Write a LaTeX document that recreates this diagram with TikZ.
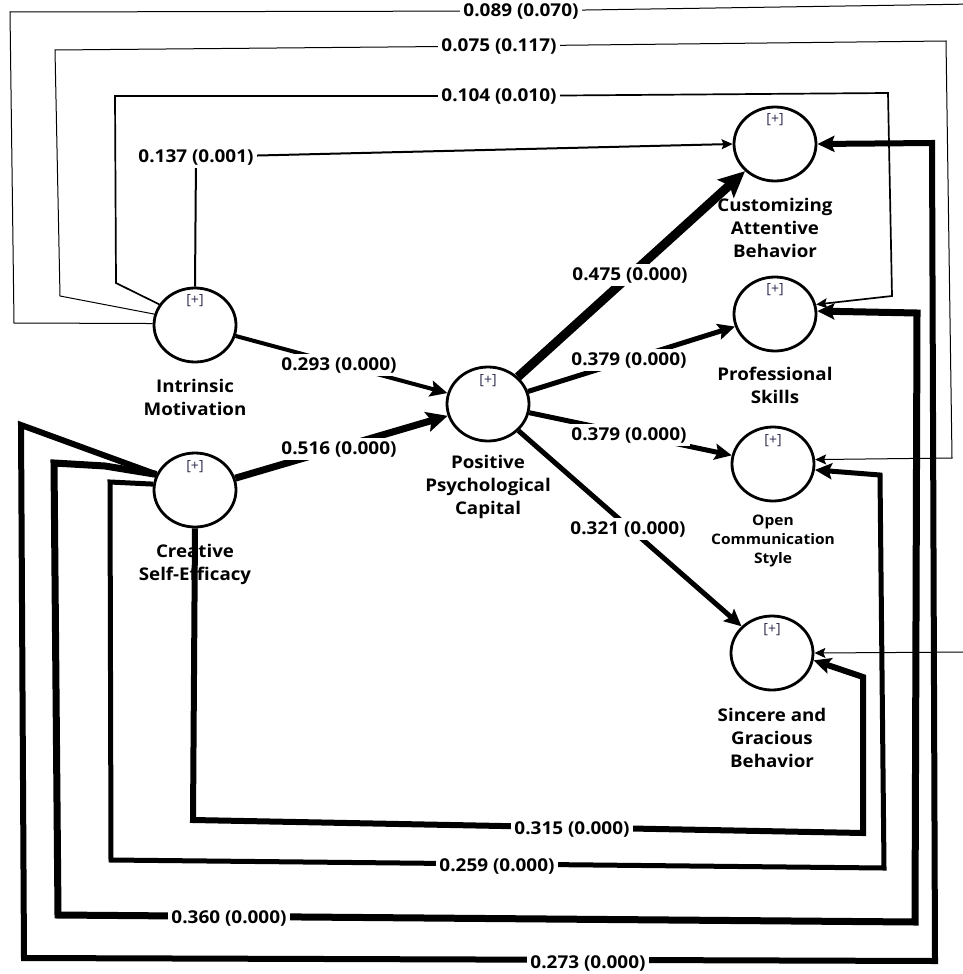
\documentclass[tikz,border=0pt]{standalone}
\usepackage{fontspec}
\setmainfont{Open Sans}
\newfontfamily\wideos[FakeStretch=1.07]{Open Sans}
\newfontfamily\lightos{Open Sans Light}
\usetikzlibrary{arrows.meta,shapes.geometric}
\definecolor{plusc}{RGB}{45,45,80}
\begin{document}
\begin{tikzpicture}[x=1pt,y=-1pt,line join=miter,
 lv/.style={ellipse,draw,line width=2.8pt,minimum width=82pt,minimum height=74pt,inner sep=0pt,fill=white},
 lbl/.style={font=\wideos\fontsize{17.5}{23}\selectfont\bfseries,align=center,inner sep=0pt},
 lbls/.style={font=\wideos\fontsize{14.5}{19}\selectfont\bfseries,align=center,inner sep=0pt},
 elab/.style={font=\wideos\fontsize{17.7}{20}\selectfont\bfseries,fill=white,inner sep=3pt},
 plus/.style={font=\fontsize{14}{14}\selectfont,text=plusc,inner sep=0pt},
 tA/.style={-{Stealth[length=11pt,width=10pt,inset=2pt]}},
 tB/.style={-{Stealth[length=17pt,width=16pt,inset=3pt]}},
 tC/.style={-{Stealth[length=21pt,width=20pt,inset=4pt]}},
 tD/.style={-{Stealth[length=26pt,width=24pt,inset=5pt]}},
]
\useasboundingbox (0,0) rectangle (963,974);
\clip (0,0) rectangle (963,974);

% latent variables
\node[lv] (IM)  at (195,325) {};
\node[lv] (CSE) at (195,490) {};
\node[lv] (PPC) at (488,404) {};
\node[lv] (CAB) at (775,144) {};
\node[lv] (PS)  at (775,314) {};
\node[lv] (OCS) at (773,464) {};
\node[lv] (SGB) at (772,653) {};

\foreach \n/\x/\y in {pIM/195/301, pCSE/195/467, pPPC/488/381, pCAB/775/120, pPS/775/290, pOCS/773/441, pSGB/772/630}
  \node[plus] (\n) at (\x,\y) {[+]};

% label of CSE lies under a connector
\node[lbl] (tCSE) at (195,564) {Creative\\Self-Efficacy};

% coordinates for label corners
\coordinate (c137) at (196,157);
\coordinate (c104) at (499,96);
\coordinate (c075) at (499,46);
\coordinate (c089) at (521,11);

% structural paths to/from PPC
\draw[line width=4pt,tB] (IM) -- (PPC);
\draw[line width=7pt,tC] (CSE) -- (PPC);
\draw[line width=9pt,tD] (PPC) -- (CAB);
\draw[line width=5pt,tB] (PPC) -- (PS);
\draw[line width=5pt,tB] (PPC) -- (OCS);
\draw[line width=5pt,tB] (PPC) -- (SGB);

% direct paths from IM (thin)
\draw[line width=2pt,tA] (IM.north) -- (c137) -- (CAB.west);
\draw[line width=1.7pt,tA] (IM.150) -- (116,283) -- (115,96) -- (c104) -- (888,93) -- (892,296) -- (PS.13);
\draw[line width=1pt,tA] (IM.165) -- (60,296) -- (55,50) -- (c075) -- (946,41) -- (952,458) -- (OCS.6);
\draw[line width=1pt,tA] (IM.178) -- (14,323) -- (10,12) -- (c089) -- (975,4) -- (975,652) -- (SGB.east);

% direct paths from CSE (thick)
\draw[line width=6pt,tB] (CSE.158) -- (21,425) -- (24,958) -- (935,961) -- (932,143) -- (CAB.east);
\draw[line width=7pt,tB] (CSE.158) -- (105,466) -- (54,463) -- (58,915) -- (915,922) -- (917,313) -- (PS.4);
\draw[line width=5pt,tB] (CSE.172) -- (110,482) -- (111,860) -- (884,868) -- (880,475) -- (OCS.-8);
\draw[line width=6pt,tB] (CSE.south) -- (193,820) -- (863,833) -- (863,677) -- (SGB.-10);

% edge labels
\node[elab] (l293) at (339,365) {0.293 (0.000)};
\node[elab] (l516) at (339,449) {0.516 (0.000)};
\node[elab] (l475) at (630,275) {0.475 (0.000)};
\node[elab] (l379a) at (629,360) {0.379 (0.000)};
\node[elab] (l379b) at (629,435) {0.379 (0.000)};
\node[elab] (l321) at (628,529) {0.321 (0.000)};
\node[elab] (l137) at (c137) {0.137 (0.001)};
\node[elab] (l104) at (c104) {0.104 (0.010)};
\node[elab] (l075) at (c075) {0.075 (0.117)};
\node[elab] (l089) at (c089) {0.089 (0.070)};
\node[elab] (l315) at (572,829) {0.315 (0.000)};
\node[elab] (l259) at (497,866) {0.259 (0.000)};
\node[elab] (l360) at (229,918) {0.360 (0.000)};
\node[elab] (l273) at (588,963) {0.273 (0.000)};

% node labels
\node[lbl] (tIM)  at (195,397) {Intrinsic\\Motivation};
\node[lbl] (tPPC) at (488,487) {Positive\\Psychological\\Capital};
\node[lbl] (tCAB) at (775,228) {Customizing\\Attentive\\Behavior};
\node[lbl] (tPS)  at (775,385) {Professional\\Skills};
\node[lbls] (tOCS) at (773,541) {Open\\Communication\\Style};
\node[lbl] (tSGB) at (772,738) {Sincere and\\Gracious\\Behavior};
\end{tikzpicture}
\end{document}
